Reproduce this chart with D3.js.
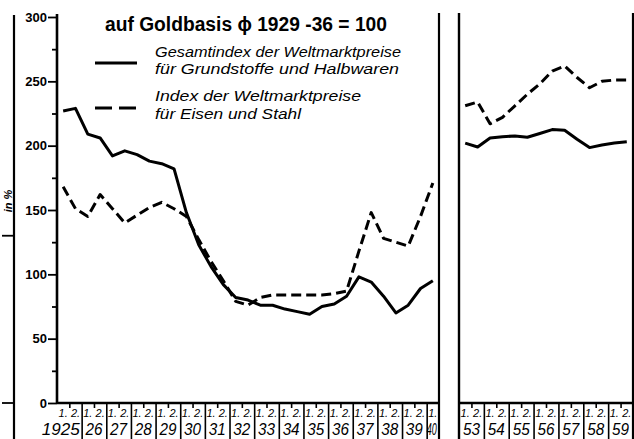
<!DOCTYPE html>
<html>
<head>
<meta charset="utf-8">
<script src="https://cdn.jsdelivr.net/npm/d3@7"></script>
<style>
  body { margin: 0; background: #fff; }
  svg { display: block; }
  text { fill: #000; }
</style>
</head>
<body>
<svg id="chart" width="634" height="439"></svg>
<script>
// half-year index values, 1925 - 1940 (first half)
const yearsA = [1925, 1926, 1927, 1928, 1929, 1930, 1931, 1932, 1933, 1934, 1935, 1936, 1937, 1938, 1939, 1940];
const gesamtA = [227, 229, 209, 206, 192, 196, 193, 188, 186, 182,
                 148, 123, 106, 92, 82, 80, 76, 76, 73, 71,
                 69, 75, 77, 83, 98, 94, 83, 70, 76, 89, 95];
const eisenA = [168, 151, 145, 162, 151, 140, 146, 152, 156, 151,
                145, 127, 110, 95, 79, 76, 82, 84, 84, 84,
                84, 84, 85, 87, 118, 148, 128, 125, 122, 145, 171];

// half-year index values, 1953 - 1959
const yearsB = [1953, 1954, 1955, 1956, 1957, 1958, 1959];
const gesamtB = [202, 199, 206, 207, 207.5, 206.5, 209.5, 212.5, 212, 205, 198.5, 200.5, 202, 203];
const eisenB = [231, 234, 217, 222, 231, 240, 248, 258, 262, 253, 245, 250, 251, 251];

const yearLabelsA = ['1925', '26', '27', '28', '29', '30', '31', '32', '33', '34', '35', '36', '37', '38', '39', '40'];
const yearLabelsB = ['53', '54', '55', '56', '57', '58', '59'];
const yTicks = [0, 50, 100, 150, 200, 250, 300];
const yMinor = [25, 75, 125, 175, 225, 275];

const title = 'auf Goldbasis \u03D5 1929 -36 = 100';
const legendSolid = ['Gesamtindex der Weltmarktpreise', 'f\u00FCr Grundstoffe und Halbwaren'];
const legendDash = ['Index der Weltmarktpreise', 'f\u00FCr Eisen und Stahl'];

// periods as "year + half" positions (middle of each half year)
const halves = (years) => years.flatMap(yr => [yr + 0.25, yr + 0.75]);
const periodsA = halves(yearsA).slice(0, gesamtA.length);
const periodsB = halves(yearsB);

const svg = d3.select('#chart');
const y = d3.scaleLinear().domain([0, 300]).range([403, 17]);
const xA = d3.scaleLinear().domain([1925, 1940.5]).range([57, 439]);
const xB = d3.scaleLinear().domain([1953, 1960]).range([459, 633]);

const FONT = '"Liberation Sans", Arial, sans-serif';

// y axis
const gy = svg.append('g').attr('transform', 'translate(57,0)');
gy.call(d3.axisLeft(y).tickValues(yTicks).tickSize(9).tickSizeOuter(0).tickPadding(1).tickFormat(d3.format('d')));
gy.append('g').call(d3.axisLeft(y).tickValues(yMinor).tickSize(5).tickFormat(''))
  .select('.domain').remove();
gy.selectAll('.domain').attr('stroke-width', 2.6).attr('d', 'M0,14V404');
gy.selectAll('line').attr('stroke-width', 1.8);
gy.selectAll('text')
  .style('font-family', FONT).style('font-weight', 'bold').style('font-size', '13px');

// far left axis of the neighbouring chart (cut off)
svg.append('line').attr('x1', 14).attr('x2', 14).attr('y1', 15).attr('y2', 439)
  .attr('stroke', '#000').attr('stroke-width', 2.2);
svg.selectAll('.leftTick').data([130, 0]).join('line')
  .attr('x1', 2).attr('x2', 14).attr('y1', d => y(d)).attr('y2', d => y(d))
  .attr('stroke', '#000').attr('stroke-width', 1.8);
svg.append('text').attr('transform', `translate(12,${y(157)}) rotate(-90)`)
  .attr('text-anchor', 'middle').style('font-family', FONT).style('font-size', '11px')
  .style('font-style', 'italic').style('font-weight', 'bold').text('in %');

// panel frames
function frame(x0, x1) {
  svg.append('line').attr('x1', x0).attr('x2', x1).attr('y1', 403).attr('y2', 403)
    .attr('stroke', '#000').attr('stroke-width', 2.6);
  svg.append('line').attr('x1', x1).attr('x2', x1).attr('y1', 13).attr('y2', 439)
    .attr('stroke', '#000').attr('stroke-width', 2.2);
}
frame(57, 439);
frame(459, 633);
svg.append('line').attr('x1', 459).attr('x2', 459).attr('y1', 13).attr('y2', 439)
  .attr('stroke', '#000').attr('stroke-width', 2.4);

// bottom axes: year separators, half-year ticks, labels
function bottomAxis(x, years, labels, lastHalfOnly) {
  const g = svg.append('g').attr('transform', 'translate(0,403)');
  g.append('g').call(d3.axisBottom(x).tickValues(years.slice(1)).tickSize(36).tickSizeOuter(0).tickFormat(''))
    .call(s => s.select('.domain').remove());
  const mids = lastHalfOnly ? years.slice(0, -1) : years;
  g.append('g').call(d3.axisBottom(x).tickValues(mids.map(d => d + 0.5)).tickSize(5).tickFormat(''))
    .call(s => s.select('.domain').remove());
  g.selectAll('line').attr('stroke-width', 1.6);

  const halfLab = [];
  years.forEach((yr, i) => {
    halfLab.push({ x: x(yr + 0.25), t: '1.' });
    if (!(lastHalfOnly && i === years.length - 1)) halfLab.push({ x: x(yr + 0.75), t: '2.' });
  });
  g.selectAll('.half').data(halfLab).join('text')
    .attr('x', d => d.x).attr('y', 14).attr('text-anchor', 'middle')
    .style('font-family', FONT).style('font-style', 'italic').style('font-size', '11px')
    .text(d => d.t);

  const isLast = i => lastHalfOnly && i === years.length - 1;
  g.selectAll('.yr').data(years).join('text')
    .attr('x', (d, i) => i === 0 && labels[0].length > 2 ? x(d + 1) - 2 : (isLast(i) ? x(d) + 5 : x(d + 0.5)))
    .attr('y', 32)
    .attr('text-anchor', (d, i) => i === 0 && labels[0].length > 2 ? 'end' : 'middle')
    .attr('textLength', (d, i) => labels[i].length > 2 ? 38 : (isLast(i) ? 10 : 17))
    .attr('lengthAdjust', 'spacingAndGlyphs')
    .style('font-family', FONT).style('font-style', 'italic').style('font-size', '17px')
    .text((d, i) => labels[i]);
}
bottomAxis(xA, yearsA, yearLabelsA, true);
bottomAxis(xB, yearsB, yearLabelsB, false);

// data lines
function draw(x, periods, values, dashed) {
  const line = d3.line().x((d, i) => x(periods[i])).y(d => y(d));
  svg.append('path').datum(values).attr('d', line)
    .attr('fill', 'none').attr('stroke', '#000').attr('stroke-width', 3)
    .attr('stroke-linejoin', 'round')
    .attr('stroke-dasharray', dashed ? '10,5' : null);
}
draw(xA, periodsA, gesamtA, false);
draw(xA, periodsA, eisenA, true);
draw(xB, periodsB, gesamtB, false);
draw(xB, periodsB, eisenB, true);

// title and legend
svg.append('text').attr('x', 105).attr('y', 31).text(title)
  .attr('textLength', 282).attr('lengthAdjust', 'spacingAndGlyphs')
  .style('font-family', FONT).style('font-weight', 'bold').style('font-size', '20px');

svg.append('line').attr('x1', 95).attr('x2', 137).attr('y1', 63).attr('y2', 63)
  .attr('stroke', '#000').attr('stroke-width', 3);
svg.append('line').attr('x1', 95).attr('x2', 137).attr('y1', 108).attr('y2', 108)
  .attr('stroke', '#000').attr('stroke-width', 3).attr('stroke-dasharray', '17,7');

const legText = [
  { t: legendSolid[0], y: 57, w: 246 },
  { t: legendSolid[1], y: 74, w: 244 },
  { t: legendDash[0], y: 101, w: 206 },
  { t: legendDash[1], y: 119, w: 146 }
];
svg.selectAll('.leg').data(legText).join('text')
  .attr('x', 155).attr('y', d => d.y)
  .attr('textLength', d => d.w).attr('lengthAdjust', 'spacingAndGlyphs')
  .style('font-family', FONT).style('font-style', 'italic').style('font-size', '15px')
  .text(d => d.t);
</script>
</body>
</html>
